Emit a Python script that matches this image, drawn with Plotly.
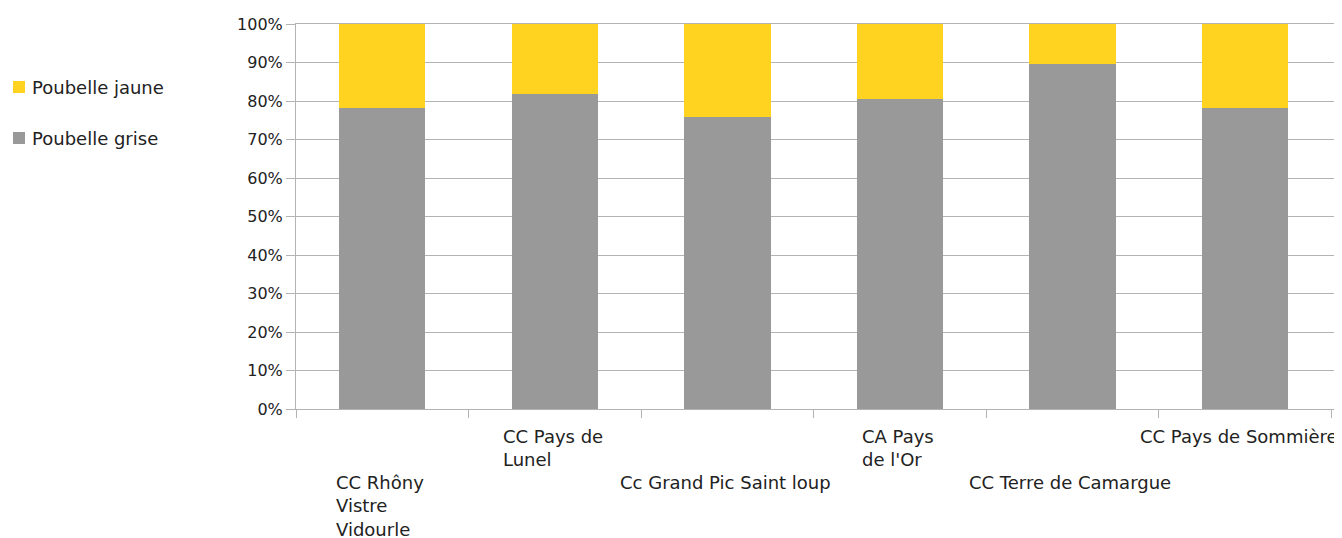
import plotly.graph_objects as go

categories = ["CC Rhôny Vistre Vidourle", "CC Pays de Lunel", "Cc Grand Pic Saint loup",
              "CA Pays de l'Or", "CC Terre de Camargue", "CC Pays de Sommière"]
tick_labels = ["CC Rhôny<br>Vistre<br>Vidourle", "CC Pays de<br>Lunel", "Cc Grand Pic Saint loup",
               "CA Pays<br>de l'Or", "CC Terre de Camargue", "CC Pays de Sommière"]
series_names = ["Poubelle grise", "Poubelle jaune"]
series_colors = ["#999999", "#FFD320"]
grise = [0.781, 0.818, 0.758, 0.805, 0.895, 0.781]
jaune = [1 - v for v in grise]

FONT = "DejaVu Sans, Liberation Sans, Arial, sans-serif"
TXT = "#222222"
# page body has an 8px margin; figure is placed at (8, 8)
W, H = 1342, 538
L, R, T, B = 288, 10, 16, 137
plot_w = W - L - R
plot_h = H - T - B


def px_x(fx):
    return (fx - L) / plot_w


def px_y(fy):
    return (H - B - fy) / plot_h


fig = go.Figure()
for name, vals, col in zip(series_names, [grise, jaune], series_colors):
    fig.add_trace(go.Bar(x=categories, y=vals, name=name, marker_color=col,
                         marker_line_width=0, showlegend=False))

# category labels (staggered, left-aligned lines)
for i, (c, lab) in enumerate(zip(categories, tick_labels)):
    top_px = 416 if i % 2 == 1 else 462
    fig.add_annotation(x=c, xref="x", y=px_y(top_px), yref="paper",
                       text=lab, showarrow=False, xanchor="center", yanchor="top",
                       align="left", xshift=(-6 if i == len(categories) - 1 else -2),
                       font=dict(family=FONT, size=18, color=TXT))

# legend (jaune on top, grise below)
legend_rows = [(series_names[1], series_colors[1], 79), (series_names[0], series_colors[0], 130)]
for name, col, cy in legend_rows:
    fig.add_shape(type="rect", xref="paper", yref="paper",
                  x0=px_x(5), x1=px_x(17), y0=px_y(cy - 6), y1=px_y(cy + 6),
                  fillcolor=col, line_width=0)
    fig.add_annotation(x=px_x(22), xref="paper", y=px_y(cy), yref="paper", text=name,
                       showarrow=False, xanchor="left", yanchor="middle",
                       font=dict(family=FONT, size=18, color=TXT))

fig.update_layout(
    width=W, height=H, barmode="stack", bargap=0.5,
    margin=dict(l=L, r=R, t=T, b=B, autoexpand=False),
    plot_bgcolor="white", paper_bgcolor="white",
    font=dict(family=FONT, size=16, color=TXT),
    showlegend=False,
    xaxis=dict(showticklabels=False, tickson="boundaries", ticks="outside", ticklen=8,
               tickcolor="#b3b3b3", showgrid=False, showline=True, linecolor="#b3b3b3",
               linewidth=1, mirror=True),
    yaxis=dict(range=[0, 1], dtick=0.1, tickformat=".0%", ticks="outside", ticklen=9,
               tickcolor="#b3b3b3", showgrid=True, gridcolor="#b3b3b3", gridwidth=1,
               showline=True, linecolor="#b3b3b3", linewidth=1, mirror=True,
               zeroline=False, tickfont=dict(family=FONT, size=16, color=TXT)),
)
fig.write_html("out.html")
